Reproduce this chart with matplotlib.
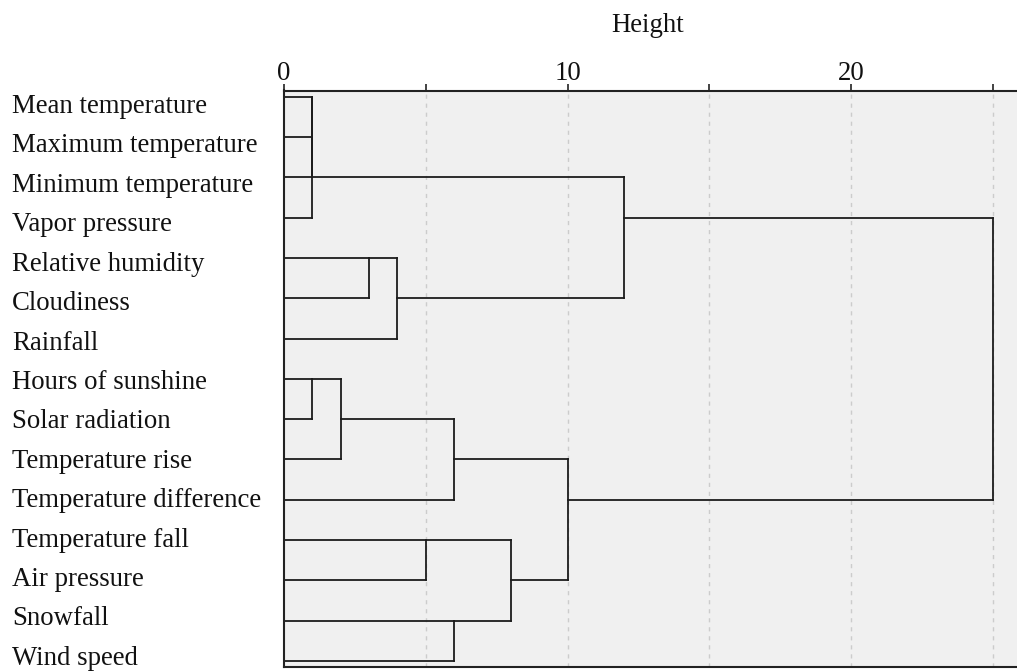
import numpy as np
import matplotlib.pyplot as plt
from matplotlib.transforms import blended_transform_factory

plt.rcParams['font.family'] = ['Liberation Serif', 'DejaVu Serif']

# leaf order, top to bottom
variables = ["Mean temperature", "Maximum temperature", "Minimum temperature",
             "Vapor pressure", "Relative humidity", "Cloudiness", "Rainfall",
             "Hours of sunshine", "Solar radiation", "Temperature rise",
             "Temperature difference", "Temperature fall", "Air pressure",
             "Snowfall", "Wind speed"]

# merges: (node a, node b, height); nodes >= 15 are earlier merges
merge_a = [0, 15, 16, 4, 18, 17, 7, 21, 22, 11, 13, 24, 23, 20]
merge_b = [1, 2, 3, 5, 6, 19, 8, 9, 10, 12, 14, 25, 26, 27]
merge_h = [1, 1, 1, 3, 4, 12, 1, 2, 6, 5, 6, 8, 10, 25]

height_ticks = [0, 5, 10, 15, 20, 25]
height_labels = ["0", "", "10", "", "20", ""]

n = len(variables)
pos = {i: i for i in range(n)}
hgt = {i: 0 for i in range(n)}

fig = plt.figure(figsize=(10.17, 6.71), dpi=100)
ax = fig.add_axes([284 / 1017, 4 / 671, 1 - 284 / 1017, (667 - 90.5) / 671])
ax.set_facecolor('#f0f0f0')

lc = '#1c1c1c'
for k, (a, b, h) in enumerate(zip(merge_a, merge_b, merge_h)):
    node = n + k
    for c in (a, b):
        ax.plot([hgt[c], h], [pos[c], pos[c]], color=lc, lw=1.3, solid_capstyle='projecting')
    ax.plot([h, h], [pos[a], pos[b]], color=lc, lw=1.3, solid_capstyle='projecting')
    pos[node] = (pos[a] + pos[b]) // 2
    hgt[node] = h

ax.set_xlim(0, (1017 - 284) / 28.35)
ax.set_ylim(14 + 6 / 40.3, -6.2 / 40.3)

ax.xaxis.tick_top()
ax.set_xticks(height_ticks)
ax.set_xticklabels(height_labels)
ax.tick_params(axis='x', length=5, width=1.2, color='#222222', pad=-1.5,
               labelsize=19.3, labelcolor='#111111')
ax.set_yticks([])
for x in height_ticks[1:]:
    ax.axvline(x, color='#cccccc', lw=1, ls=(0, (3, 3.5)), zorder=0)

ax.spines['right'].set_visible(False)
for side in ['top', 'bottom', 'left']:
    ax.spines[side].set_color('#222222')
    ax.spines[side].set_linewidth(1.5)

trans = blended_transform_factory(fig.transFigure, ax.transData)
for i, name in enumerate(variables):
    ax.text(12 / 1017, 0.404 + 0.978 * i, name, transform=trans, ha='left',
            va='baseline', fontsize=19.3, color='#111111')

fig.text(648 / 1017, 1 - 31.5 / 671, "Height", ha='center', va='baseline',
         fontsize=19.3, color='#111111')

fig.savefig("out.png", dpi=100)
